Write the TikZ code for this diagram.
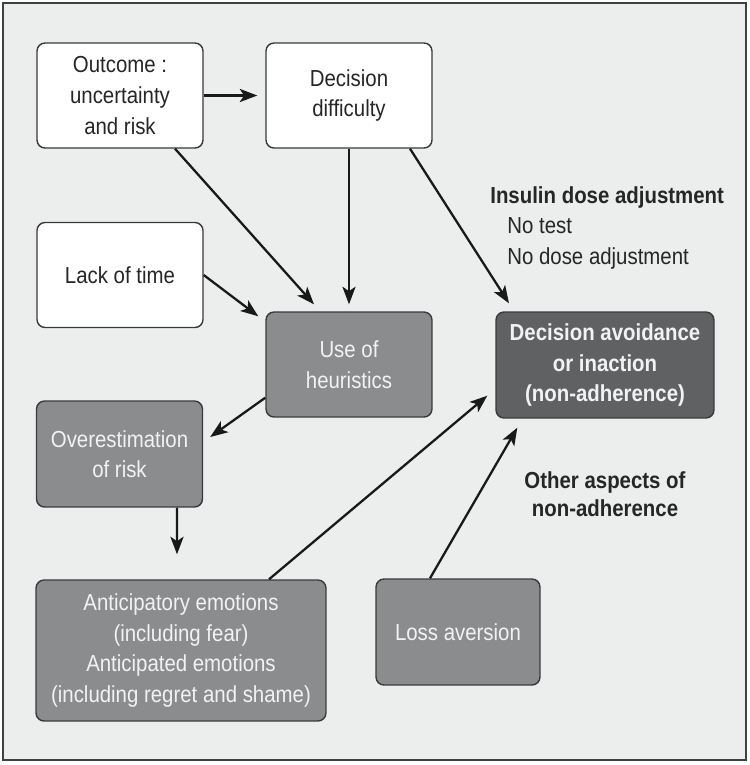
\documentclass[tikz,border=0pt]{standalone}
\usepackage{fontspec}
\setmainfont{Liberation Sans}[FakeStretch=0.88]
\usetikzlibrary{calc,arrows.meta}

\definecolor{panel}{HTML}{ECEDED}
\definecolor{boxgray}{HTML}{8B8C8E}
\definecolor{boxdark}{HTML}{606163}
\definecolor{edge}{HTML}{3A3A3A}

\tikzset{
  box/.style={draw=edge, line width=0.8pt, rounded corners=0.16cm, align=center,
    minimum width=3.32cm, minimum height=2.1cm, inner sep=2pt,
    font=\fontsize{13.2pt}{17.4pt}\selectfont},
  whitebox/.style={box, fill=white, text=black!85},
  graybox/.style={box, fill=boxgray, text=white!95!black},
  darkbox/.style={box, fill=boxdark, text=white!95!black, font=\fontsize{13.2pt}{17.4pt}\selectfont\bfseries},
  note/.style={inner sep=0pt, text=black!85, font=\fontsize{13.2pt}{17.4pt}\selectfont},
  arr/.style={-{Stealth[length=10pt,width=7.5pt,inset=2.5pt]}, line width=1.3pt, draw=black!90}
}

\begin{document}
\begin{tikzpicture}[x=0.02cm,y=-0.02cm]
\useasboundingbox (0,0) rectangle (750,765);
\draw [fill=panel, draw=black!75, line width=1.1pt] (3,3) rectangle (746,760);

% top row
\node (outcome) [whitebox] at (120,95.5) {Outcome :\\uncertainty\\and risk};
\node (decision) [whitebox] at (349,95.5) {Decision\\difficulty};
\node (lack) [whitebox] at (120,275) {Lack of time};

% middle
\node (heur) [graybox] at (349,364.5) {Use of\\heuristics};
\node (avoid) [darkbox, minimum width=4.36cm, minimum height=2.12cm] at (605,365) {Decision avoidance\\or inaction\\(non-adherence)};
\node (over) [graybox, minimum height=2.12cm] at (119.5,454) {Overestimation\\of risk};

% bottom row
\node (antic) [graybox, minimum width=5.8cm, minimum height=2.82cm] at (181,650.5)
  {Anticipatory emotions\\(including fear)\\Anticipated emotions\\(including regret and shame)};
\node (loss) [graybox, minimum width=3.28cm, minimum height=2.12cm] at (458,632) {Loss aversion};

% side notes
\node (insulin) [note, anchor=base west, font=\fontsize{13.2pt}{17.4pt}\selectfont\bfseries] at (490,203) {Insulin dose adjustment};
\node (notest) [note, anchor=base west] at (507,233) {No test};
\node (nodose) [note, anchor=base west] at (507,264) {No dose adjustment};
\node (other) [note, align=center, font=\fontsize{13.2pt}{16pt}\selectfont\bfseries] at (605,494) {Other aspects of\\non-adherence};

% arrows
\draw [arr] (outcome.east) -- ($(decision.west)+(-8,0)$);
\draw [arr] ($(outcome.south)+(55,0)$) -- ($(heur.north)+(-35,-7)$);
\draw [arr] (decision.south) -- ($(heur.north)+(0,-7)$);
\draw [arr] ($(decision.south)+(61,0)$) -- ($(avoid.north)+(-96,-8)$);
\draw [arr] (lack.east) -- ($(heur.north west)+(-7,5)$);
\draw [arr] ($(heur.south west)+(0,-20)$) -- ($(over.east)+(7,-17)$);
\draw [arr] ($(over.south)+(57.5,0)$) -- ($(antic.north)+(-4,-25)$);
\draw [arr] ($(antic.north)+(88,0)$) -- ($(avoid.south west)+(-8,-23)$);
\draw [arr] ($(loss.north)+(-28,0)$) -- ($(avoid.south west)+(22,9)$);
\end{tikzpicture}
\end{document}
